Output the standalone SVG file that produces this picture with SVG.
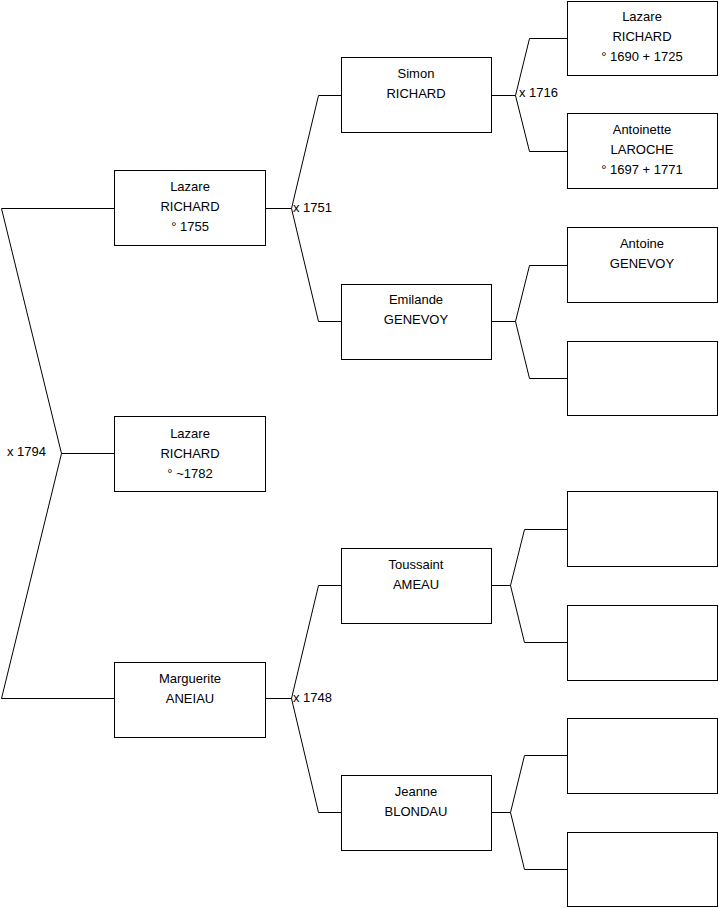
<svg xmlns="http://www.w3.org/2000/svg" width="719" height="908" viewBox="0 0 719 908">
<style>
.box{fill:#fff;stroke:#000;stroke-width:1}
.ln{fill:none;stroke:#000;stroke-width:1}
text{font-family:"Liberation Sans",Arial,sans-serif;font-size:13px;fill:#000}
.c{text-anchor:middle}
</style>
<rect width="719" height="908" fill="#fff"/>
<g id="connectors">
<polyline class="ln" points="114,208.5 1.5,208.5 61.5,453.5 1.5,698.5 114,698.5"/>
<line class="ln" x1="61.5" y1="453.5" x2="114" y2="453.5"/>
<polyline class="ln" points="265,208.5 291.5,208.5"/>
<polyline class="ln" points="341,95.5 318.5,95.5 291.5,208.5 318.5,321.5 341,321.5"/>
<polyline class="ln" points="265,698.5 291.5,698.5"/>
<polyline class="ln" points="341,585.5 318.5,585.5 291.5,698.5 318.5,812.5 341,812.5"/>
<polyline class="ln" points="491,95.5 515.5,95.5"/>
<polyline class="ln" points="567,38.5 529.5,38.5 515.5,95.5 529.5,151.5 567,151.5"/>
<polyline class="ln" points="491,321.5 515.5,321.5"/>
<polyline class="ln" points="567,265.5 529.5,265.5 515.5,321.5 529.5,378.5 567,378.5"/>
<polyline class="ln" points="491,585.5 510.5,585.5"/>
<polyline class="ln" points="567,529.5 524.5,529.5 510.5,585.5 524.5,642.5 567,642.5"/>
<polyline class="ln" points="491,812.5 510.5,812.5"/>
<polyline class="ln" points="567,755.5 524.5,755.5 510.5,812.5 524.5,869.5 567,869.5"/>
<text x="293" y="212">x 1751</text>
<text x="519" y="97">x 1716</text>
<text x="7" y="456">x 1794</text>
<text x="293" y="702">x 1748</text>
</g>
<g id="n-lazare-1755">
<rect class="box" x="114.5" y="170.5" width="151" height="75"/>
<text class="c" x="190" y="191">Lazare</text>
<text class="c" x="190" y="211">RICHARD</text>
<text class="c" x="190" y="231">° 1755</text>
</g>
<g id="n-lazare-1782">
<rect class="box" x="114.5" y="416.5" width="151" height="75"/>
<text class="c" x="190" y="438">Lazare</text>
<text class="c" x="190" y="458">RICHARD</text>
<text class="c" x="190" y="478">° ~1782</text>
</g>
<g id="n-marguerite">
<rect class="box" x="114.5" y="662.5" width="151" height="75"/>
<text class="c" x="190" y="683">Marguerite</text>
<text class="c" x="190" y="703">ANEIAU</text>
</g>
<g id="n-simon">
<rect class="box" x="341.5" y="57.5" width="150" height="75"/>
<text class="c" x="416" y="78">Simon</text>
<text class="c" x="416" y="98">RICHARD</text>
</g>
<g id="n-emilande">
<rect class="box" x="341.5" y="284.5" width="150" height="75"/>
<text class="c" x="416" y="304">Emilande</text>
<text class="c" x="416" y="324">GENEVOY</text>
</g>
<g id="n-toussaint">
<rect class="box" x="341.5" y="548.5" width="150" height="75"/>
<text class="c" x="416" y="569">Toussaint</text>
<text class="c" x="416" y="589">AMEAU</text>
</g>
<g id="n-jeanne">
<rect class="box" x="341.5" y="775.5" width="150" height="75"/>
<text class="c" x="416" y="796">Jeanne</text>
<text class="c" x="416" y="816">BLONDAU</text>
</g>
<g id="n-lazare-1690">
<rect class="box" x="567.5" y="1.5" width="150" height="74"/>
<text class="c" x="642" y="21">Lazare</text>
<text class="c" x="642" y="41">RICHARD</text>
<text class="c" x="642" y="61">° 1690 + 1725</text>
</g>
<g id="n-antoinette">
<rect class="box" x="567.5" y="113.5" width="150" height="75"/>
<text class="c" x="642" y="134">Antoinette</text>
<text class="c" x="642" y="154">LAROCHE</text>
<text class="c" x="642" y="174">° 1697 + 1771</text>
</g>
<g id="n-antoine">
<rect class="box" x="567.5" y="227.5" width="150" height="75"/>
<text class="c" x="642" y="248">Antoine</text>
<text class="c" x="642" y="268">GENEVOY</text>
</g>
<g id="n-empty-1"><rect class="box" x="567.5" y="341.5" width="150" height="74"/></g>
<g id="n-empty-2"><rect class="box" x="567.5" y="491.5" width="150" height="75"/></g>
<g id="n-empty-3"><rect class="box" x="567.5" y="605.5" width="150" height="75"/></g>
<g id="n-empty-4"><rect class="box" x="567.5" y="718.5" width="150" height="75"/></g>
<g id="n-empty-5"><rect class="box" x="567.5" y="832.5" width="150" height="74"/></g>
</svg>
